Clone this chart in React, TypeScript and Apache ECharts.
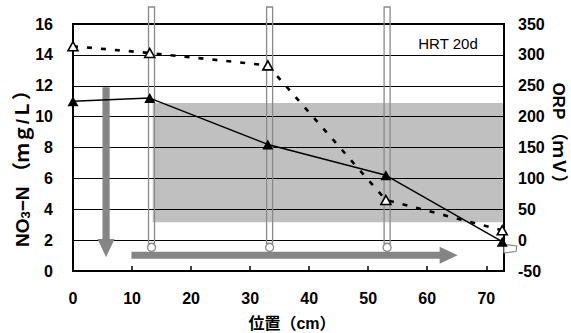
import React, { useEffect, useRef } from 'react';
import * as echarts from 'echarts';

// Data
const positions = [0, 13, 33, 53, 72.7]; // cm
const no3 = [11.0, 11.2, 8.2, 6.2, 1.9]; // mg/L
const orp = [314, 303, 283, 65, 16]; // mV

// Decorations in data coordinates
const greyBox = [[13.5, 10.88, 72.8, 3.16]]; // x0, y0, x1, y1
const tubes = [[13.3, 17.1, 1.53], [33.3, 17.1, 1.53], [53.2, 17.1, 1.53]]; // x, top, bottom(circle)
const arrows = [[5.6, 11.9, 5.6, 0.91], [9.9, 1.02, 65.15, 1.02]]; // from -> to
const outlet = [[73.0, 1.73], [75.15, 1.62], [75.04, 1.26], [73.0, 1.17]];

const FONT = "'Liberation Sans', 'Noto Sans CJK JP', sans-serif";

function arrowPoints(a: number[], b: number[], sh: number, hh: number, hl: number) {
  const dx = b[0] - a[0], dy = b[1] - a[1];
  const L = Math.hypot(dx, dy);
  const ux = dx / L, uy = dy / L;
  const nx = -uy, ny = ux;
  const hx = b[0] - ux * hl, hy = b[1] - uy * hl;
  return [
    [a[0] + nx * sh, a[1] + ny * sh],
    [hx + nx * sh, hy + ny * sh],
    [hx + nx * hh, hy + ny * hh],
    [b[0], b[1]],
    [hx - nx * hh, hy - ny * hh],
    [hx - nx * sh, hy - ny * sh],
    [a[0] - nx * sh, a[1] - ny * sh],
  ];
}

export default function App() {
  const ref = useRef<HTMLDivElement>(null);
  useEffect(() => {
    if (!ref.current) return;
    const chart = echarts.init(ref.current, null, { renderer: 'svg' });
    const labelStyle = { color: '#000', fontSize: 16, fontWeight: 'bold' as const, fontFamily: FONT };
    chart.setOption({
      animation: false,
      backgroundColor: '#fff',
      grid: { left: 73, right: 67, top: 24, bottom: 62, show: true, borderColor: '#000', borderWidth: 2, backgroundColor: 'transparent' },
      xAxis: {
        type: 'value', min: 0, max: 73, interval: 10, z: 2,
        axisLine: { show: true, lineStyle: { color: '#000', width: 2 } },
        axisTick: { show: true, inside: true, length: 5, lineStyle: { color: '#000', width: 1.5 } },
        axisLabel: { ...labelStyle, margin: 19, showMaxLabel: false },
        splitLine: { show: false },
      },
      yAxis: [
        {
          type: 'value', min: 0, max: 16, interval: 2, z: 2,
          axisLine: { show: true, lineStyle: { color: '#000', width: 2 } },
          axisTick: { show: true, inside: true, length: 5, lineStyle: { color: '#000', width: 1 } },
          axisLabel: { ...labelStyle, margin: 20 },
          splitLine: { show: true, lineStyle: { color: '#000', width: 1 } },
        },
        {
          type: 'value', min: -50, max: 350, interval: 50, position: 'right', z: 2,
          axisLine: { show: true, lineStyle: { color: '#000', width: 2 } },
          axisTick: { show: true, inside: true, length: 5, lineStyle: { color: '#000', width: 1 } },
          axisLabel: { ...labelStyle, margin: 14 },
          splitLine: { show: false },
        },
      ],
      graphic: [
        { type: 'text', x: 448, y: 43, z: 10, style: { text: 'HRT 20d', font: `15px ${FONT}`, fill: '#000', align: 'center', verticalAlign: 'middle' } },
        {
          type: 'text', x: 22, y: 164, rotation: Math.PI / 2, z: 10,
          style: {
            text: '{a|NO}{s|3}{a|−N （ｍｇ/Ｌ）}', align: 'center', verticalAlign: 'middle',
            rich: {
              a: { fontSize: 19, fontWeight: 'bold', fontFamily: FONT, fill: '#000' },
              s: { fontSize: 13, fontWeight: 'bold', fontFamily: FONT, fill: '#000', verticalAlign: 'bottom' },
            },
          },
        },
        { type: 'text', x: 558, y: 137, rotation: -Math.PI / 2, z: 10, style: { text: 'ORP （ｍＶ）', font: `bold 17px ${FONT}`, fill: '#000', align: 'center', verticalAlign: 'middle' } },
        { type: 'text', x: 292, y: 323, z: 10, style: { text: '位置（cm）', font: `bold 16px ${FONT}`, fill: '#000', align: 'center', verticalAlign: 'middle' } },
      ],
      series: [
        {
          type: 'custom', z: 1, silent: true, data: greyBox,
          renderItem: (_p: any, api: any) => {
            const a = api.coord([api.value(0), api.value(1)]);
            const b = api.coord([api.value(2), api.value(3)]);
            return { type: 'rect', shape: { x: a[0], y: a[1], width: b[0] - a[0], height: b[1] - a[1] }, style: { fill: '#c0c0c0' } };
          },
        },
        {
          type: 'custom', z: 3, silent: true, data: arrows,
          renderItem: (_p: any, api: any) => {
            const a = api.coord([api.value(0), api.value(1)]);
            const b = api.coord([api.value(2), api.value(3)]);
            return { type: 'polygon', shape: { points: arrowPoints(a, b, 3.6, 8.6, 18) }, style: { fill: '#858585' } };
          },
        },
        {
          type: 'custom', z: 3, silent: true, data: tubes,
          renderItem: (_p: any, api: any) => {
            const top = api.coord([api.value(0), api.value(1)]);
            const bot = api.coord([api.value(0), api.value(2)]);
            const r = 4;
            return {
              type: 'group',
              children: [
                { type: 'rect', shape: { x: top[0] - 3, y: top[1], width: 6, height: bot[1] - r - top[1] }, style: { fill: 'none', stroke: '#8a8a8a', lineWidth: 1.3 } },
                { type: 'circle', shape: { cx: bot[0], cy: bot[1], r }, style: { fill: '#fff', stroke: '#8a8a8a', lineWidth: 1.3 } },
              ],
            };
          },
        },
        {
          type: 'custom', z: 3, silent: true, data: [0],
          renderItem: (_p: any, api: any) => ({
            type: 'polygon',
            shape: { points: outlet.map((p) => api.coord(p)) },
            style: { fill: '#fff', stroke: '#8a8a8a', lineWidth: 1.2 },
          }),
        },
        {
          type: 'line', z: 5, yAxisIndex: 0, data: positions.map((x, i) => [x, no3[i]]),
          symbol: 'triangle', symbolSize: [11, 10], showSymbol: true,
          lineStyle: { color: '#000', width: 1.5 }, itemStyle: { color: '#000' },
        },
        {
          type: 'line', z: 5, yAxisIndex: 1, data: positions.map((x, i) => [x, orp[i]]),
          symbol: 'triangle', symbolSize: [10, 9], showSymbol: true,
          lineStyle: { color: '#000', width: 2.6, type: [5, 9] },
          itemStyle: { color: '#fff', borderColor: '#000', borderWidth: 1.6 },
        },
      ],
    });
    return () => chart.dispose();
  }, []);
  return <div ref={ref} style={{ position: 'fixed', left: 0, top: 0, width: 571, height: 333 }} />;
}
